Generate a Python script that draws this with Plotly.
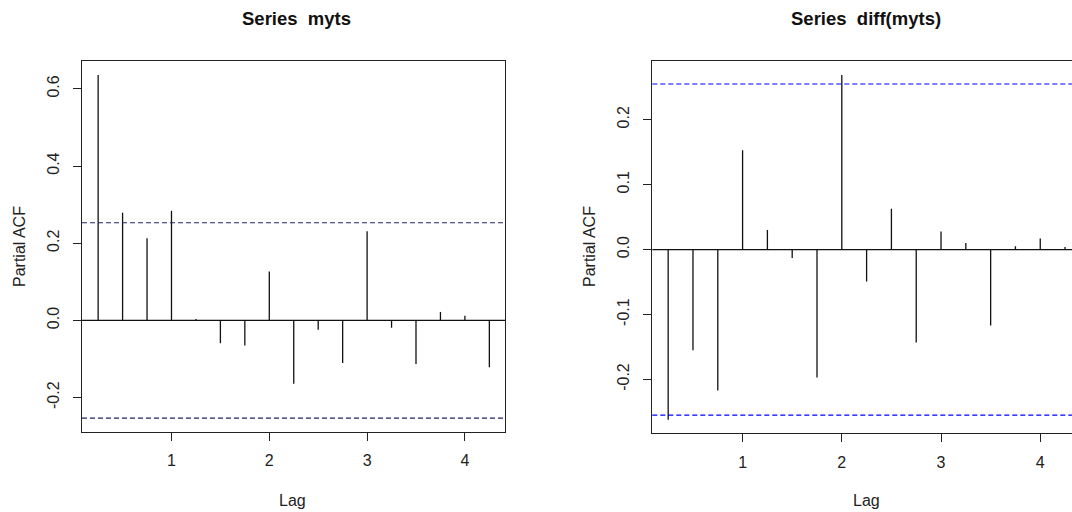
import plotly.graph_objects as go

# ---- data ----
lags = [0.25, 0.5, 0.75, 1.0, 1.25, 1.5, 1.75, 2.0, 2.25, 2.5, 2.75, 3.0, 3.25, 3.5, 3.75, 4.0, 4.25]
pacf_myts = [0.636, 0.279, 0.213, 0.284, 0.004, -0.059, -0.065, 0.127, -0.164, -0.024,
             -0.110, 0.231, -0.019, -0.113, 0.022, 0.012, -0.121]
pacf_diff = [-0.262, -0.155, -0.217, 0.153, 0.030, -0.013, -0.197, 0.269, -0.049, 0.063,
             -0.143, 0.028, 0.010, -0.117, 0.005, 0.017, 0.004]
ci_myts = 0.253
ci_diff = 0.255
titles = ["Series  myts", "Series  diff(myts)"]
x_ticks = [1, 2, 3, 4]
y_ticks_myts = [-0.2, 0.0, 0.2, 0.4, 0.6]
y_ticks_diff = [-0.2, -0.1, 0.0, 0.1, 0.2]

W, H = 1072, 512
FONT = "Liberation Sans, Arial, sans-serif"
TXT = "#222222"


def stems(xs, ys):
    sx, sy = [], []
    for x, y in zip(xs, ys):
        sx += [x, x, None]
        sy += [0, y, None]
    return sx, sy


fig = go.Figure()
for i, vals in enumerate([pacf_myts, pacf_diff]):
    sx, sy = stems(lags, vals)
    fig.add_trace(go.Scatter(
        x=sx, y=sy, mode="lines", line=dict(color="#111111", width=1.3),
        xaxis="x" if i == 0 else "x2", yaxis="y" if i == 0 else "y2",
        showlegend=False, hoverinfo="skip"))

axis_common = dict(
    showgrid=False, zeroline=False, showline=True, linecolor="#222222", linewidth=1.2,
    ticks="outside", ticklen=8, tickwidth=1, tickcolor="#222222",
    tickfont=dict(family=FONT, size=16, color=TXT),
)

fig.update_layout(
    width=W, height=H, margin=dict(l=0, r=0, t=0, b=0),
    paper_bgcolor="white", plot_bgcolor="white", showlegend=False,
    xaxis=dict(domain=[82 / W, 505 / W], range=[0.085, 4.41], tickvals=x_ticks,
               mirror=True, ticklabelstandoff=6, anchor="y", **axis_common),
    yaxis=dict(domain=[1 - 432 / H, 1 - 61 / H], range=[-0.289, 0.672],
               tickvals=y_ticks_myts, ticktext=[f"{v:.1f}" for v in y_ticks_myts],
               tickangle=-90, mirror=True, ticklabelstandoff=8, anchor="x", **axis_common),
    xaxis2=dict(domain=[652.3 / W, 1.0], range=[0.09, 4.32], tickvals=x_ticks,
                mirror=True, ticklabelstandoff=6, anchor="y2", **axis_common),
    yaxis2=dict(domain=[1 - 433.3 / H, 1 - 61.3 / H], range=[-0.283, 0.290],
                tickvals=y_ticks_diff, ticktext=[f"{v:.1f}" for v in y_ticks_diff],
                tickangle=-90, mirror=False, ticklabelstandoff=8, anchor="x2", **axis_common),
)

shapes = []
for xr, yr, ci, col in [("x domain", "y", ci_myts, "#22226e"), ("x2 domain", "y2", ci_diff, "#0000ff")]:
    shapes.append(dict(type="line", xref=xr, yref=yr, x0=0, x1=1, y0=0, y1=0,
                       line=dict(color="#111111", width=1.2)))
    for s in (1, -1):
        shapes.append(dict(type="line", xref=xr, yref=yr, x0=0, x1=1, y0=s * ci, y1=s * ci,
                           line=dict(color=col, width=1.2, dash="5px,3px")))
fig.update_layout(shapes=shapes)

ann = []
for t, cx in zip(titles, [296, 866]):
    ann.append(dict(text=f"<b>{t}</b>", x=cx / W, y=1 - 18 / H, xref="paper", yref="paper",
                    xanchor="center", yanchor="middle", showarrow=False,
                    font=dict(family=FONT, size=18.5, color="#111111")))
for cx in [292, 866]:
    ann.append(dict(text="Lag", x=cx / W, y=1 - 500 / H, xref="paper", yref="paper",
                    xanchor="center", yanchor="middle", showarrow=False,
                    font=dict(family=FONT, size=16, color=TXT)))
for cx in [19, 589]:
    ann.append(dict(text="Partial ACF", x=cx / W, y=1 - 247 / H, xref="paper", yref="paper",
                    xanchor="center", yanchor="middle", showarrow=False, textangle=-90,
                    font=dict(family=FONT, size=16, color=TXT)))
fig.update_layout(annotations=ann)

fig.write_html("out.html")
